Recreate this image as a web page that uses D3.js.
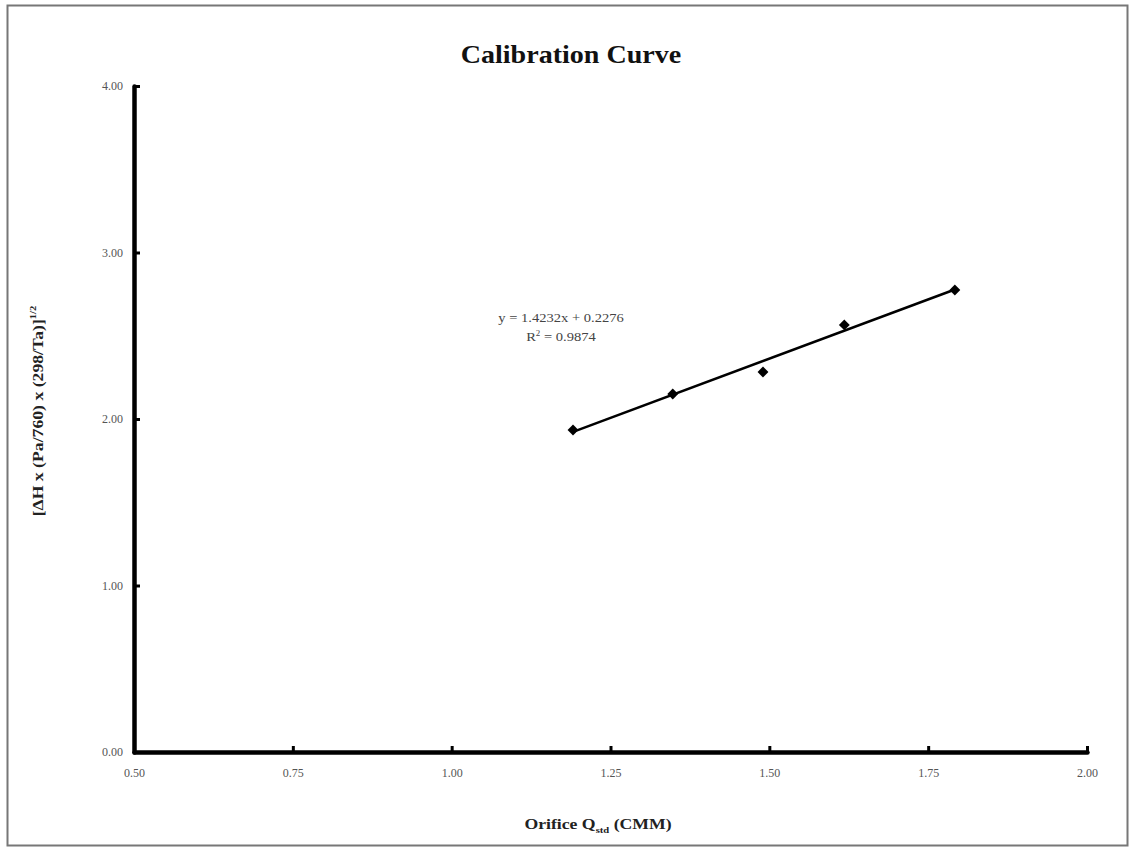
<!DOCTYPE html>
<html><head><meta charset="utf-8">
<script src="https://cdn.jsdelivr.net/npm/d3@7/dist/d3.min.js"></script>
<style>body{margin:0;background:#fff}svg{display:block}</style>
</head><body>
<svg id="c" width="1134" height="848"></svg>
<script>
const xValues = [1.191, 1.348, 1.490, 1.618, 1.792];
const yValues = [1.934, 2.150, 2.282, 2.565, 2.775];
const xTicks = [0.50, 0.75, 1.00, 1.25, 1.50, 1.75, 2.00];
const yTicks = [0.00, 1.00, 2.00, 3.00, 4.00];
const slope = 1.4232, intercept = 0.2276;
const eqText = "y = 1.4232x + 0.2276";

const svg = d3.select("#c");
const serif = "'Liberation Serif','DejaVu Serif',serif";
svg.append("rect").attr("x",7.5).attr("y",5.5).attr("width",1120).attr("height",840)
  .attr("fill","#fff").attr("stroke","#777").attr("stroke-width",2);

const x = d3.scaleLinear().domain([0.5,2.0]).range([134,1087]);
const y = d3.scaleLinear().domain([0,4]).range([752,86]);

const xAxis = svg.append("g").attr("transform","translate(0,752)")
  .call(d3.axisBottom(x).tickValues(xTicks).tickFormat(d3.format(".2f")).tickSizeInner(-6).tickSizeOuter(0).tickPadding(16));
const yAxis = svg.append("g").attr("transform","translate(134,0)")
  .call(d3.axisLeft(y).tickValues(yTicks).tickFormat(d3.format(".2f")).tickSizeInner(-6).tickSizeOuter(0).tickPadding(11));
[xAxis,yAxis].forEach(g=>{
  g.select(".domain").attr("stroke","#000").attr("stroke-width",4.5).attr("stroke-linecap","round");
  g.selectAll(".tick line").attr("stroke","#000").attr("stroke-width",3);
  g.selectAll(".tick text").attr("fill","#555").attr("font-family",serif).attr("font-size",12);
});

// trend line
const xs = d3.extent(xValues);
svg.append("line").attr("x1",x(xs[0])).attr("y1",y(slope*xs[0]+intercept))
  .attr("x2",x(xs[1])).attr("y2",y(slope*xs[1]+intercept))
  .attr("stroke","#000").attr("stroke-width",2.5);

// points
svg.selectAll(".pt").data(xValues.map((v,i)=>[v,yValues[i]])).enter().append("path")
  .attr("class","pt").attr("d",d3.symbol(d3.symbolDiamond2,75))
  .attr("transform",d=>`translate(${x(d[0])},${y(d[1])})`).attr("fill","#000");

// title
svg.append("text").attr("transform","translate(571,63) scale(1.08,1)").attr("text-anchor","middle")
  .attr("font-family",serif).attr("font-weight","bold").attr("font-size",26).attr("fill","#111").text("Calibration Curve");

// equation
svg.append("text").attr("transform","translate(561,322) scale(1.12,1)").attr("text-anchor","middle")
  .attr("font-family",serif).attr("font-size",13).attr("fill","#444").text(eqText);
const r2 = svg.append("text").attr("transform","translate(561,341) scale(1.12,1)").attr("text-anchor","middle")
  .attr("font-family",serif).attr("font-size",13).attr("fill","#444");
r2.append("tspan").text("R");
r2.append("tspan").attr("dy",-5).attr("font-size",8).text("2");
r2.append("tspan").attr("dy",5).text(" = 0.9874");

// x label
const xl = svg.append("text").attr("transform","translate(598,829) scale(1.18,1)").attr("text-anchor","middle")
  .attr("font-family",serif).attr("font-weight","bold").attr("font-size",15).attr("fill","#222");
xl.append("tspan").text("Orifice Q");
xl.append("tspan").attr("dy",4).attr("font-size",9).text("std");
xl.append("tspan").attr("dy",-4).text(" (CMM)");

// y label
const yl = svg.append("text").attr("transform","translate(43,411) rotate(-90) scale(1.18,1)").attr("text-anchor","middle")
  .attr("font-family",serif).attr("font-weight","bold").attr("font-size",15).attr("fill","#222");
yl.append("tspan").text("[ΔH x (Pa/760) x (298/Ta)]");
yl.append("tspan").attr("dy",-7).attr("font-size",9).text("1/2");
</script>
</body></html>
